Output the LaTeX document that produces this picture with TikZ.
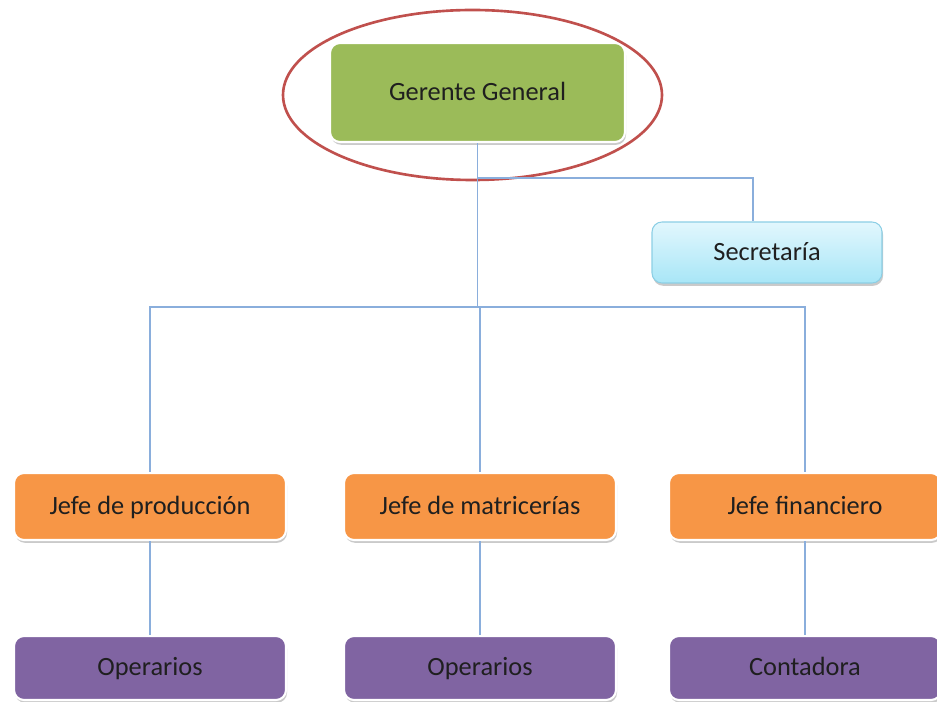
\documentclass[tikz,border=0pt]{standalone}
\usepackage{fontspec}
\setmainfont{Carlito}
\usepackage{tikz}
\usetikzlibrary{shapes.geometric,shadows}

\definecolor{ggGreen}{HTML}{9BBB59}
\definecolor{jefeOrange}{HTML}{F79646}
\definecolor{baseViolet}{HTML}{8064A2}
\definecolor{secTop}{HTML}{E2F7FD}
\definecolor{secBot}{HTML}{A8E6F7}
\definecolor{secRim}{HTML}{8CCFE5}
\definecolor{linkBlue}{HTML}{8AAEDC}
\definecolor{ringRed}{HTML}{C0504D}

\begin{document}
\begin{tikzpicture}[every node/.style={font=\fontsize{15}{18}\selectfont, text=black!88}]
        \tikzstyle{boxStyle} = [rectangle, rounded corners=0.2cm, draw=white, line width=1.2pt,
            text height=2.1ex, text depth=0.3ex,
            drop shadow={shadow xshift=0.6pt, shadow yshift=-1.6pt, opacity=0.35, fill=black!60}]
        \tikzstyle{topBox} = [boxStyle, fill=ggGreen, minimum width=5.9cm, minimum height=1.98cm]
        \tikzstyle{secBox} = [boxStyle, top color=secTop, bottom color=secBot, draw=secRim, line width=0.6pt,
            minimum width=4.6cm, minimum height=1.22cm]
        \tikzstyle{jefeBox} = [boxStyle, fill=jefeOrange, minimum width=5.44cm, minimum height=1.34cm]
        \tikzstyle{baseBox} = [boxStyle, fill=baseViolet, minimum width=5.44cm, minimum height=1.28cm]
        \tikzstyle{link} = [draw=linkBlue, line width=0.8pt]
        \useasboundingbox (0,0) rectangle (18.74,-14.04);
        \node[topBox] (gg) at (9.55,-1.85) {Gerente General};
        \node[secBox] (sec) at (15.34,-5.05) {Secretaría};
        \node[jefeBox] (jp) at (3.0,-10.13) {Jefe de producción};
        \node[jefeBox] (jm) at (9.6,-10.13) {Jefe de matricerías};
        \node[jefeBox] (jf) at (16.1,-10.13) {Jefe financiero};
        \node[baseBox] (op1) at (3.0,-13.36) {Operarios};
        \node[baseBox] (op2) at (9.6,-13.36) {Operarios};
        \node[baseBox] (cont) at (16.1,-13.36) {Contadora};
        \node[ellipse, draw=ringRed, line width=1.5pt, minimum width=7.58cm, minimum height=3.4cm] (ring) at (9.45,-1.9) {};
        \coordinate (secbar) at (0,-3.56);
        \coordinate (bar) at (0,-6.14);
        \path[link] (gg.south) -- (gg.south |- bar);
        \path[link] (gg.south |- secbar) -| ([xshift=-0.28cm]sec.north);
        \foreach \to in {jp,jm,jf}
            \path[link] (gg.south |- bar) -| (\to.north);
        \foreach \from/\to in {jp/op1, jm/op2, jf/cont}
            \path[link] (\from) -- (\to);

    \end{tikzpicture}
\end{document}
